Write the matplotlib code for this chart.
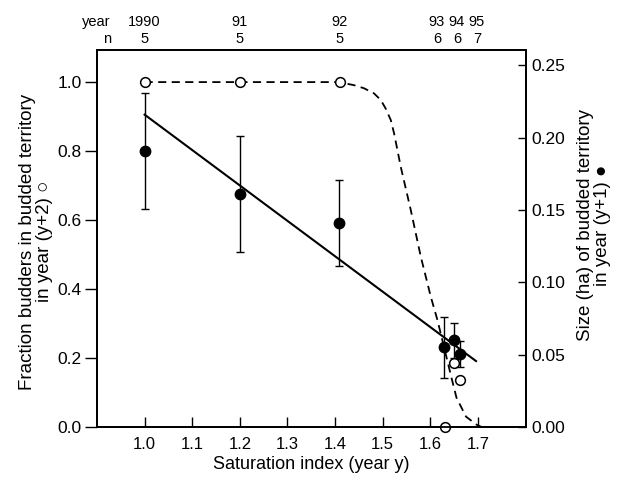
import matplotlib
matplotlib.use("Agg")
import matplotlib.pyplot as plt
import matplotlib.transforms as mtransforms

plt.rcParams['font.family'] = ['Liberation Sans', 'DejaVu Sans']

# open circles: fraction budders in budded territory, year y+2 (left axis)
frac_x = [1.0, 1.2, 1.41, 1.631, 1.650, 1.662]
frac_y = [1.0, 1.0, 1.0, 0.0, 0.185, 0.136]

# dashed curve (left axis)
curve_x = [1.0, 1.2, 1.41, 1.422, 1.440, 1.461, 1.482, 1.496, 1.506, 1.517,
           1.524, 1.538, 1.559, 1.580, 1.601, 1.615, 1.630, 1.645, 1.655,
           1.675, 1.698, 1.708]
curve_y = [1.0, 1.0, 1.0, 0.996, 0.991, 0.982, 0.967, 0.948, 0.924, 0.890,
           0.851, 0.754, 0.629, 0.494, 0.378, 0.310, 0.225, 0.140, 0.085,
           0.030, 0.006, 0.0]

# filled circles: size (ha) of budded territory, year y+1 (right axis)
size_x = [1.0, 1.201, 1.409, 1.629, 1.650, 1.662]
size_y = [0.191, 0.161, 0.141, 0.055, 0.060, 0.0505]
size_err = [0.040, 0.040, 0.030, 0.021, 0.012, 0.009]

# regression line (right axis)
fit_x = [1.0, 1.696]
fit_y = [0.216, 0.0456]

# top annotation rows
year_pos = [1.0, 1.2, 1.41, 1.614, 1.656, 1.698]
year_labels = ['1990', '91', '92', '93', '94', '95']
n_labels = ['5', '5', '5', '6', '6', '7']

fig = plt.figure(figsize=(6.19, 4.80), dpi=100)
ax = fig.add_axes([0.1567, 0.1104, 0.6923, 0.7854])
ax2 = ax.twinx()

ax.plot(curve_x, curve_y, color='black', lw=1.3, linestyle=(0, (4.5, 3)),
        zorder=2, clip_on=False)
ax.plot(frac_x, frac_y, linestyle='none', marker='o', ms=7,
        mfc='white', mec='black', mew=1.1, zorder=3, clip_on=False)

ax2.plot(fit_x, fit_y, color='black', lw=1.5, zorder=2)
ax2.errorbar(size_x, size_y, yerr=size_err, fmt='o', ms=7.5, color='black',
             mfc='black', mec='black', ecolor='black', elinewidth=1.0,
             capsize=3, capthick=1.0, zorder=3)

ax.set_xlim(0.9, 1.8)
ax.set_ylim(0.0, 1.093)
ax2.set_ylim(0.0, 0.2607)

ax.set_xticks([1.0, 1.1, 1.2, 1.3, 1.4, 1.5, 1.6, 1.7])
ax.set_xticklabels(['1.0', '1.1', '1.2', '1.3', '1.4', '1.5', '1.6', '1.7'])
ax.set_yticks([0.0, 0.2, 0.4, 0.6, 0.8, 1.0])
ax.set_yticklabels(['0.0', '0.2', '0.4', '0.6', '0.8', '1.0'])
ax2.set_yticks([0.0, 0.05, 0.10, 0.15, 0.20, 0.25])
ax2.set_yticklabels(['0.00', '0.05', '0.10', '0.15', '0.20', '0.25'])

ax.tick_params(axis='x', direction='in', length=7, width=1.0, labelsize=12, pad=7)
ax.tick_params(axis='y', direction='out', length=9, width=1.0, labelsize=12.5, pad=2)
ax2.tick_params(axis='y', direction='in', length=6, width=1.0, labelsize=12.5, pad=4)

for a in (ax, ax2):
    for sp in a.spines.values():
        sp.set_linewidth(1.3)

ax.set_xlabel('Saturation index (year y)', fontsize=13, labelpad=3)
ax.set_ylabel('Fraction budders in budded territory\nin year (y+2) \u25cb',
              fontsize=13.5, linespacing=1.0)
ax.yaxis.set_label_coords(-0.103, 0.492)
ax2.set_ylabel('Size (ha) of budded territory\nin year (y+1) \u25cf',
               fontsize=13.5, linespacing=1.0)
ax2.yaxis.set_label_coords(1.119, 0.536)

trans = mtransforms.blended_transform_factory(ax.transData, ax.transAxes)
ax.text(0.929, 1.074, 'year', transform=trans, ha='right', va='center', fontsize=10.5)
ax.text(0.929, 1.029, 'n', transform=trans, ha='right', va='center', fontsize=10.5)
for xp, yl, nl in zip(year_pos, year_labels, n_labels):
    ax.text(xp, 1.074, yl, transform=trans, ha='center', va='center', fontsize=10.5)
    ax.text(xp, 1.029, nl, transform=trans, ha='center', va='center', fontsize=10.5)

fig.savefig('out.png', dpi=100)
